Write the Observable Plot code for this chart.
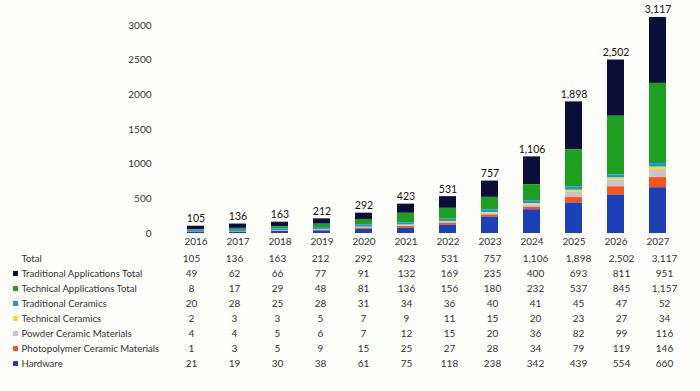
<!DOCTYPE html>
<html>
<head>
<meta charset="utf-8">
<script src="https://cdn.jsdelivr.net/npm/d3@7"></script>
<script src="https://cdn.jsdelivr.net/npm/@observablehq/plot@0.6"></script>
<style>
  html, body { margin: 0; padding: 0; background: #fdfdfa; }
  #chart { width: 700px; height: 391px; overflow: hidden; }
  svg { display: block; font-family: Lato, "Open Sans", sans-serif; }
</style>
</head>
<body>
<div id="chart"></div>
<script>
const years = ["2016","2017","2018","2019","2020","2021","2022","2023","2024","2025","2026","2027"];
const totals = [105,136,163,212,292,423,531,757,1106,1898,2502,3117];
const seriesNames = [
  "Traditional Applications Total",
  "Technical Applications Total",
  "Traditional Ceramics",
  "Technical Ceramics",
  "Powder Ceramic Materials",
  "Photopolymer Ceramic Materials",
  "Hardware"
];
const traditionalApplications = [49,62,66,77,91,132,169,235,400,693,811,951];
const technicalApplications = [8,17,29,48,81,136,156,180,232,537,845,1157];
const traditionalCeramics = [20,28,25,28,31,34,36,40,41,45,47,52];
const technicalCeramics = [2,3,3,5,7,9,11,15,20,23,27,34];
const powderCeramics = [4,4,5,6,7,12,15,20,36,82,99,116];
const photopolymerCeramics = [1,3,5,9,15,25,27,28,34,79,119,146];
const hardware = [21,19,30,38,61,75,118,238,342,439,554,660];
const seriesColors = ["#0b0f38","#1f9f22","#1d96d3","#f5de1a","#cbc4c4","#f4541f","#1e40b6"];
const yTicks = [0,500,1000,1500,2000,2500,3000];

const seriesValues = [traditionalApplications, technicalApplications, traditionalCeramics,
  technicalCeramics, powderCeramics, photopolymerCeramics, hardware];

const long = [];
seriesNames.forEach((s, i) => years.forEach((y, j) => long.push({year: y, series: s, value: seriesValues[i][j]})));
const totalData = years.map((y, j) => ({year: y, total: totals[j]}));
const fmt = d3.format(",");
const rowNames = ["Total", ...seriesNames];
const tableData = [];
years.forEach((y, j) => {
  tableData.push({year: y, row: "Total", value: totals[j]});
  seriesNames.forEach((s, i) => tableData.push({year: y, row: s, value: seriesValues[i][j]}));
});

const W = 700, ML = 161, MR = 7;
const font = "Lato, 'Open Sans', sans-serif";

const chart = Plot.plot({
  width: W, height: 247,
  marginLeft: ML, marginRight: MR, marginTop: 25, marginBottom: 14,
  style: {background: "transparent", fontFamily: font, fontSize: "10px", color: "#333"},
  x: {domain: years, padding: 0.59, label: null},
  y: {domain: [0, 3000], label: null},
  color: {domain: seriesNames, range: seriesColors},
  marks: [
    Plot.axisY({ticks: yTicks, tickFormat: d => String(d), tickSize: 0, tickPadding: 10, label: null, fontSize: 10, fill: "#333"}),
    Plot.axisX({tickSize: 0, tickPadding: 4, label: null, fontSize: 10, fill: "#333", fontWeight: "normal"}),
    Plot.barY(long, {x: "year", y: "value", fill: "series", order: [...seriesNames].reverse()}),
    Plot.text(totalData, {x: "year", y: "total", text: d => fmt(d.total), lineAnchor: "bottom", dy: -4, fontSize: 10.5, fill: "#111"})
  ]
});

const table = Plot.plot({
  width: W, height: 144,
  marginLeft: ML, marginRight: MR, marginTop: 8, marginBottom: 25,
  style: {background: "transparent", fontFamily: font, fontSize: "10px", color: "#333"},
  x: {domain: years, padding: 0.59, axis: null},
  y: {domain: rowNames, type: "point", padding: 0, axis: null},
  color: {domain: seriesNames, range: seriesColors},
  marks: [
    Plot.text(tableData, {x: "year", y: "row", text: d => fmt(d.value), fontSize: 10, fill: "#333"}),
    Plot.text(rowNames, {y: d => d, text: d => d, frameAnchor: "left", textAnchor: "start", dx: 21 - ML, fontSize: 9.6, fill: "#333"}),
    Plot.dot(seriesNames, {y: d => d, fill: d => d, symbol: "square", r: 2.8, frameAnchor: "left", dx: 15 - ML})
  ]
});

const el = document.getElementById("chart");
el.appendChild(chart);
el.appendChild(table);
</script>
</body>
</html>
